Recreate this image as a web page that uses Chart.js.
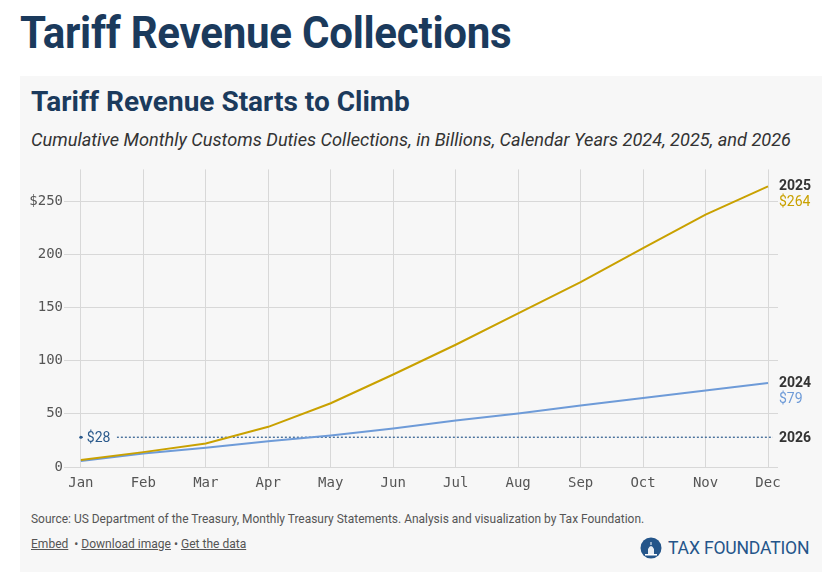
<!DOCTYPE html>
<html>
<head>
<meta charset="utf-8">
<script src="https://cdn.jsdelivr.net/npm/chart.js@4/dist/chart.umd.min.js"></script>
<style>
  html,body{margin:0;padding:0;background:#fff;width:835px;height:587px;overflow:hidden;font-family:Roboto,"Noto Sans",sans-serif;}
  .abs{position:absolute;white-space:nowrap;}
  #h1{left:20px;top:6px;font-size:45px;font-weight:700;color:#1b3a5c;transform:scaleX(0.935);transform-origin:left top;letter-spacing:-0.3px;}
  #panel{left:20px;top:76px;width:802px;height:496px;background:#f7f7f7;}
  #h2{left:31px;top:85px;font-size:28px;font-weight:700;color:#1b3a5c;transform:scaleX(1.0);transform-origin:left top;}
  #sub{left:31px;top:129px;font-size:18px;font-style:italic;color:#333;transform:scaleX(1.01);transform-origin:left top;}
  #chartwrap{left:20px;top:160px;width:802px;height:335px;}
  #src{left:31px;top:511px;font-size:13px;color:#555;transform:scaleX(0.92);transform-origin:left top;}
  #links{left:31px;top:536px;font-size:13px;color:#555;transform:scaleX(0.925);transform-origin:left top;}
  #links u{text-decoration:underline;}
  #logo{left:640px;top:537px;}
  #logotxt{left:668px;top:537px;font-size:18.5px;color:#24558a;transform:scaleX(0.95);transform-origin:left top;letter-spacing:-0.2px;}
</style>
</head>
<body>
<div id="h1" class="abs">Tariff Revenue Collections</div>
<div id="panel" class="abs"></div>
<div id="h2" class="abs">Tariff Revenue Starts to Climb</div>
<div id="sub" class="abs">Cumulative Monthly Customs Duties Collections, in Billions, Calendar Years 2024, 2025, and 2026</div>
<div id="chartwrap" class="abs"><canvas id="c" width="802" height="335"></canvas></div>
<div id="src" class="abs">Source: US Department of the Treasury, Monthly Treasury Statements. Analysis and visualization by Tax Foundation.</div>
<div id="links" class="abs"><u>Embed</u> &nbsp;• <u>Download image</u> • <u>Get the data</u></div>
<svg id="logo" class="abs" width="22" height="22" viewBox="0 0 22 22">
  <circle cx="11" cy="11" r="10.5" fill="#24558a"/>
  <path d="M8 18 L8 12 Q11 6 14 12 L14 18 Z" fill="#fff" opacity="0.9"/>
  <rect x="10.5" y="5" width="1" height="3" fill="#fff"/>
  <rect x="5" y="17" width="12" height="1.5" fill="#fff"/>
</svg>
<div id="logotxt" class="abs">TAX FOUNDATION</div>
<script>
const months = ['Jan','Feb','Mar','Apr','May','Jun','Jul','Aug','Sep','Oct','Nov','Dec'];
const y2024 = [5.6, 12.8, 18, 24.3, 29.7, 36.2, 43.7, 50.3, 57.8, 65, 72, 79];
const y2025 = [6.6, 14, 22.2, 37.8, 60, 87, 115, 144.5, 174, 206, 237.5, 264];
const y2026 = [28];
const yTicks = [0, 50, 100, 150, 200, 250];

const gold = '#c9a100';
const blue = '#6e9bd8';
const navy = '#2b5a8c';

const toPts = arr => arr.map((v, i) => ({x: i, y: v}));
const latest2026 = y2026[y2026.length - 1];

const labelPlugin = {
  id: 'endLabels',
  afterDatasetsDraw(chart) {
    const ctx = chart.ctx;
    const ca = chart.chartArea;
    const x = ca.right + 1;
    ctx.save();
    ctx.textBaseline = 'middle';
    ctx.textAlign = 'left';
    const p25 = chart.getDatasetMeta(0).data[y2025.length - 1];
    const p24 = chart.getDatasetMeta(1).data[y2024.length - 1];
    const p26 = chart.getDatasetMeta(3).data[1];
    ctx.font = '700 14px Roboto';
    ctx.fillStyle = '#333';
    ctx.fillText('2025', x, p25.y);
    ctx.fillText('2024', x, p24.y);
    ctx.fillText('2026', x, p26.y + 1);
    ctx.font = '400 14px Roboto';
    ctx.fillStyle = gold;
    ctx.fillText('$' + y2025[y2025.length - 1], x, p25.y + 16);
    ctx.fillStyle = blue;
    ctx.fillText('$' + y2024[y2024.length - 1], x, p24.y + 16);
    const p0 = chart.getDatasetMeta(2).data[0];
    const t = '$' + latest2026;
    const w = ctx.measureText(t).width;
    ctx.fillStyle = '#f7f7f7';
    ctx.fillRect(p0.x + 3, p0.y - 8, w + 9, 16);
    ctx.fillStyle = navy;
    ctx.fillText(t, p0.x + 6, p0.y + 1);
    ctx.restore();
  }
};

const gridColor = '#d8d8d8';
new Chart(document.getElementById('c'), {
  type: 'line',
  data: {
    datasets: [
      {label: '2025', data: toPts(y2025), borderColor: gold, borderWidth: 2, pointRadius: 0, tension: 0},
      {label: '2024', data: toPts(y2024), borderColor: blue, borderWidth: 2, pointRadius: 0, tension: 0},
      {label: '2026', data: toPts(y2026), borderColor: navy, backgroundColor: navy, borderWidth: 0, pointRadius: 1.6, pointBorderWidth: 0, showLine: false},
      {label: '2026 ref', data: [{x: 0, y: latest2026}, {x: months.length - 1 + 0.08, y: latest2026}], borderColor: navy, borderWidth: 1.2, borderDash: [2, 2], pointRadius: 0}
    ]
  },
  options: {
    responsive: false,
    animation: false,
    devicePixelRatio: 1,
    layout: {padding: {top: 8, right: 44, left: 0, bottom: 0}},
    plugins: {legend: {display: false}, tooltip: {enabled: false}},
    scales: {
      x: {
        type: 'linear',
        min: -0.27,
        max: 11.16,
        afterFit(s) { s.height = 28; },
        ticks: {
          stepSize: 1,
          includeBounds: false,
          autoSkip: false,
          maxRotation: 0,
          padding: 8,
          color: '#555',
          font: {family: '"DejaVu Sans Mono", monospace', size: 14},
          callback: v => months[v] || ''
        },
        grid: {color: gridColor, lineWidth: 1, drawTicks: false},
        border: {display: false}
      },
      y: {
        min: 0,
        max: 280,
        afterFit(s) { s.width = 44; },
        afterBuildTicks(s) { s.ticks = yTicks.map(v => ({value: v})); },
        ticks: {
          padding: 1,
          color: '#555',
          font: {family: '"DejaVu Sans Mono", monospace', size: 14},
          callback: v => v === yTicks[yTicks.length - 1] ? '$' + v : String(v)
        },
        grid: {color: gridColor, lineWidth: 1, drawTicks: false},
        border: {display: false}
      }
    }
  },
  plugins: [labelPlugin]
});
</script>
</body>
</html>
